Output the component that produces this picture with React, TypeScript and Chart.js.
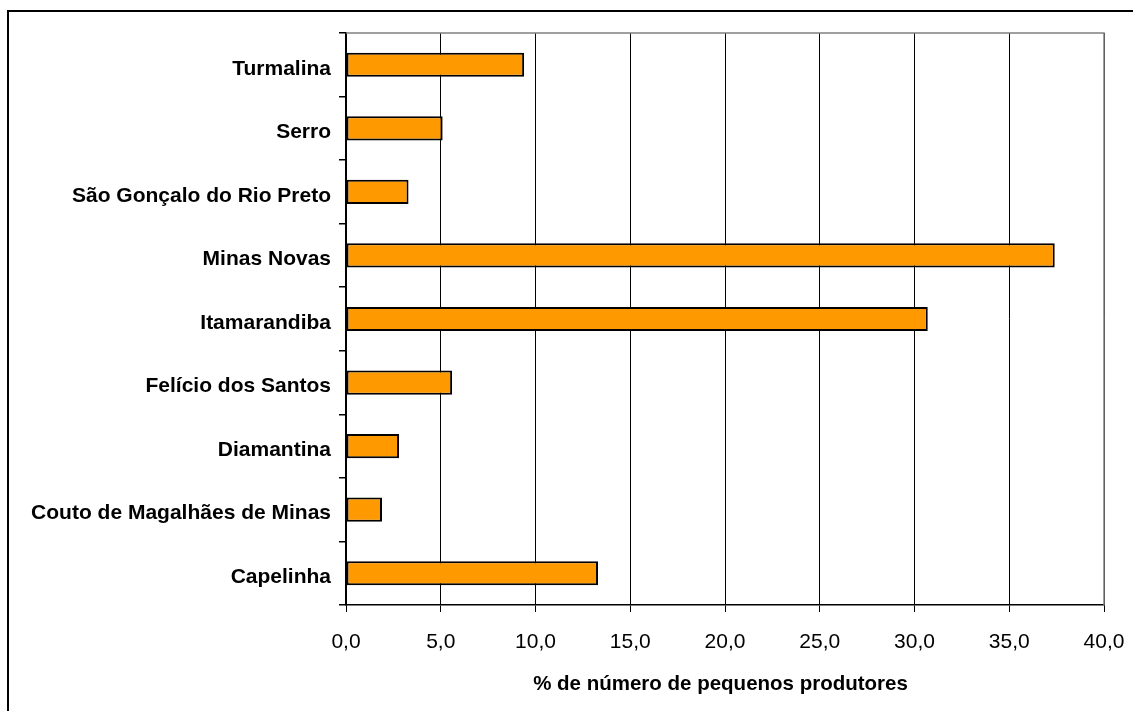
import React, { useEffect, useRef } from "react";
import { Chart, registerables } from "chart.js";

Chart.register(...registerables);

const categories = [
  "Turmalina",
  "Serro",
  "São Gonçalo do Rio Preto",
  "Minas Novas",
  "Itamarandiba",
  "Felício dos Santos",
  "Diamantina",
  "Couto de Magalhães de Minas",
  "Capelinha",
];
const values = [9.4, 5.1, 3.3, 37.4, 30.7, 5.6, 2.8, 1.9, 13.3];
const xTickLabels = ["0,0", "5,0", "10,0", "15,0", "20,0", "25,0", "30,0", "35,0", "40,0"];
const xTitle = "% de número de pequenos produtores";

const FONT = "'Liberation Sans', Arial, sans-serif";

const framePlugin = {
  id: "frame",
  beforeDraw(chart: any) {
    const ctx = chart.ctx;
    ctx.save();
    ctx.fillStyle = "#000";
    ctx.fillRect(7, 10, 2000, 2);
    ctx.fillRect(7, 10, 2, 2000);
    ctx.restore();
  },
  afterDatasetsDraw(chart: any) {
    const { ctx, chartArea } = chart;
    ctx.save();
    ctx.strokeStyle = "#808080";
    ctx.lineWidth = 1.5;
    ctx.beginPath();
    ctx.moveTo(chartArea.left, chartArea.top);
    ctx.lineTo(chartArea.right, chartArea.top);
    ctx.lineTo(chartArea.right, chartArea.bottom);
    ctx.stroke();
    ctx.restore();
  },
  afterDraw(chart: any) {
    const { ctx, chartArea } = chart;
    ctx.save();
    ctx.fillStyle = "#000";
    ctx.font = `bold 20.5px ${FONT}`;
    ctx.textAlign = "center";
    ctx.textBaseline = "middle";
    ctx.fillText(xTitle, (chartArea.left + chartArea.right) / 2 - 4.5, chartArea.bottom + 79);
    ctx.restore();
  },
};

export default function App() {
  const ref = useRef<HTMLCanvasElement>(null);
  useEffect(() => {
    if (!ref.current) return;
    const chart = new Chart(ref.current, {
      type: "bar",
      data: {
        labels: categories,
        datasets: [
          {
            data: values,
            backgroundColor: "#FF9900",
            borderColor: "#000000",
            borderWidth: 2,
            borderSkipped: false,
            barPercentage: 0.38,
            categoryPercentage: 1,
          },
        ],
      },
      options: {
        indexAxis: "y",
        animation: false,
        responsive: false,
        layout: { padding: { top: 33, right: 29, bottom: 0, left: 0 } },
        plugins: {
          legend: { display: false },
          tooltip: { enabled: false },
        },
        scales: {
          x: {
            type: "linear",
            min: 0,
            max: 40,
            afterFit: (s: any) => {
              s.height = 106;
              s.paddingLeft = 0;
              s.paddingRight = 0;
            },
            ticks: {
              stepSize: 5,
              color: "#000",
              padding: 18,
              font: { family: FONT, size: 21 },
              callback: (_v: any, i: number) => xTickLabels[i],
            },
            grid: {
              color: "#000",
              lineWidth: 1,
              tickLength: 7,
            },
            border: { color: "#000", width: 1.5 },
          },
          y: {
            type: "category",
            afterFit: (s: any) => {
              s.width = 346;
              s.paddingTop = 0;
              s.paddingBottom = 0;
            },
            ticks: {
              color: "#000",
              padding: 8,
              labelOffset: 4,
              font: { family: FONT, size: 21, weight: "bold" },
            },
            grid: {
              drawOnChartArea: false,
              color: "#000",
              lineWidth: 1.5,
              tickLength: 7,
              offset: true,
            },
            border: { color: "#000", width: 2 },
          },
        },
      },
      plugins: [framePlugin],
    });
    return () => chart.destroy();
  }, []);
  return (
    <div style={{ position: "absolute", left: 0, top: 0, width: 1133, height: 711 }}>
      <canvas ref={ref} width={1133} height={711} style={{ display: "block" }} />
    </div>
  );
}
